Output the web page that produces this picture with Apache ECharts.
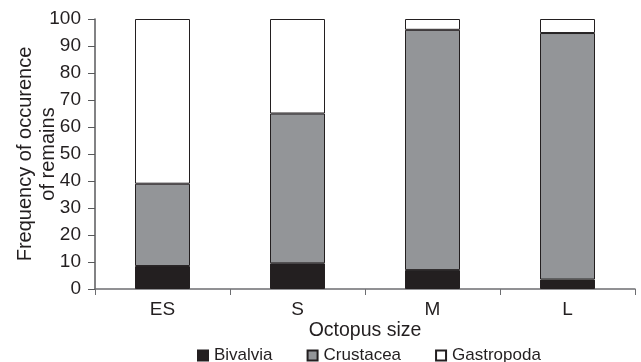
<!DOCTYPE html>
<html><head><meta charset="utf-8">
<script src="https://cdn.jsdelivr.net/npm/echarts@6/dist/echarts.min.js"></script>
<style>html,body{margin:0;padding:0;background:#fff}#c{width:641px;height:362px}</style>
</head><body><div id="c"></div>
<script>
var categories = ['ES', 'S', 'M', 'L'];
var bivalvia = [8.5, 9.5, 7, 3.5];
var crustacea = [30.5, 55.5, 89, 91.3];
var gastropoda = [61, 35, 4, 5.2];
var yTicks = [0, 10, 20, 30, 40, 50, 60, 70, 80, 90, 100];

var chart = echarts.init(document.getElementById('c'));
var font = 'Liberation Sans, Arial, sans-serif';
var border = '#231f20';
function s(name, data, color) {
  return { name: name, type: 'bar', stack: 'a', data: data, barWidth: 55,
    itemStyle: { color: color, borderColor: border, borderWidth: 1 }, emphasis: { disabled: true } };
}
chart.setOption({
  animation: false,
  grid: { left: 95, right: 6, top: 19, bottom: 73, containLabel: false, outerBoundsMode: 'none' },
  legend: {
    bottom: -2, left: 197, padding: 0, itemWidth: 10, itemHeight: 10, itemGap: 34,
    icon: 'rect',
    textStyle: { fontFamily: font, fontSize: 17, color: '#231f20', padding: [0, 0, 0, 1] },
    data: ['Bivalvia', 'Crustacea', 'Gastropoda']
  },
  xAxis: {
    type: 'category', data: categories,
    name: 'Octopus size', nameLocation: 'middle', nameGap: 32, nameMoveOverlap: false,
    nameTextStyle: { fontFamily: font, fontSize: 19.5, color: '#231f20' },
    axisLine: { lineStyle: { color: '#6d6e71', width: 1.5 } },
    axisTick: { show: true, alignWithLabel: false, length: 6, lineStyle: { color: '#6d6e71' } },
    axisLabel: { fontFamily: font, fontSize: 19, color: '#231f20', margin: 11 }
  },
  yAxis: {
    type: 'value', min: yTicks[0], max: yTicks[yTicks.length - 1], interval: 10,
    name: 'Frequency of occurence\nof remains', nameLocation: 'middle', nameGap: 35, nameRotate: 90,
    nameMoveOverlap: false,
    nameTextStyle: { fontFamily: font, fontSize: 20, color: '#231f20', lineHeight: 23 },
    axisLine: { show: true, lineStyle: { color: '#58595b', width: 1.5 } },
    axisTick: { show: true, length: 7, lineStyle: { color: '#58595b' } },
    splitLine: { show: false },
    axisLabel: { fontFamily: font, fontSize: 19, color: '#231f20', margin: 14 }
  },
  series: [
    s('Bivalvia', bivalvia, '#231f20'),
    s('Crustacea', crustacea, '#939598'),
    s('Gastropoda', gastropoda, '#ffffff')
  ]
});
</script></body></html>
